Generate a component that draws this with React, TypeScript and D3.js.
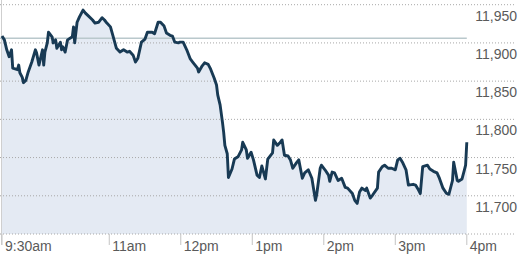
import React from "react";
import * as d3 from "d3";

const minutes = [0,2,4,6,8,9,13,14,15,17,18,20,22,25,28,29,31,34,35,36,38,39,42,43,45,46,49,50,51,53,55,59,60,61,63,65,68,70,72,76,78,81,84,86,88,91,93,96,99,102,105,107,110,112,114,117,120,122,126,128,131,133,136,138,141,143,145,148,149,152,155,158,160,164,165,168,170,173,175,178,180,181,183,185,186,187,189,190,193,195,198,201,202,205,206,209,211,214,216,218,221,223,227,228,231,233,235,237,240,242,244,247,249,252,254,257,260,263,264,267,268,271,274,275,277,279,282,285,288,290,294,296,298,300,302,305,306,309,311,315,316,319,321,324,327,330,332,334,336,339,341,345,347,349,351,353,357,359,362,365,367,370,373,375,378,379,382,383,386,388,389,390];
const values = [11909,11904,11891,11882,11891,11867,11865,11871,11861,11855,11848,11851,11862,11875,11891,11887,11871,11891,11871,11888,11900,11914,11908,11900,11904,11893,11901,11891,11895,11888,11904,11908,11921,11900,11927,11934,11943,11939,11936,11930,11926,11927,11933,11930,11926,11921,11910,11893,11888,11891,11888,11889,11884,11875,11880,11901,11905,11914,11914,11912,11927,11927,11922,11913,11910,11909,11901,11900,11901,11901,11891,11879,11875,11867,11862,11870,11874,11872,11866,11854,11845,11832,11819,11796,11783,11766,11755,11724,11735,11748,11751,11760,11770,11760,11749,11757,11747,11727,11724,11739,11722,11748,11756,11773,11766,11769,11773,11753,11752,11747,11736,11743,11747,11723,11730,11734,11723,11694,11701,11736,11740,11734,11727,11719,11731,11730,11720,11723,11711,11710,11703,11694,11690,11705,11710,11707,11710,11697,11701,11710,11731,11738,11740,11736,11736,11734,11747,11749,11744,11734,11714,11715,11714,11709,11703,11738,11740,11735,11732,11730,11723,11710,11703,11702,11720,11744,11720,11719,11722,11734,11740,11770];

const prevClose = 11906;
const yTicks = [11650, 11700, 11750, 11800, 11850, 11900, 11950];
const yLabels = [11700, 11750, 11800, 11850, 11900, 11950];
const xTicks = [0, 90, 150, 210, 270, 330, 390];
const xLabels = ["9:30am", "11am", "12pm", "1pm", "2pm", "3pm", "4pm"];

export default function App() {
  const W = 525, H = 264;
  const x = d3.scaleLinear().domain([0, 390]).range([2, 466.8]);
  const y = d3.scaleLinear().domain([11650, 11950]).range([234, 4.7]);
  const data = minutes.map((m, i) => ({ m, v: values[i] }));
  const line = d3.line<{ m: number; v: number }>().x(d => x(d.m)).y(d => y(d.v));
  const area = d3.area<{ m: number; v: number }>().x(d => x(d.m)).y0(y(11650)).y1(d => y(d.v));
  const font = "'Liberation Sans', Arial, sans-serif";
  return (
    <svg width={W} height={H} style={{ position: "absolute", left: 0, top: 0, background: "#fff" }}>
      <path d={area(data) || ""} fill="#e4eaf3" />
      {yTicks.map(t => (
        <line key={t} x1={0} x2={515} y1={y(t)} y2={y(t)} stroke="#a8a8a8" strokeWidth={1} strokeDasharray="1 2" />
      ))}
      <line x1={1.5} x2={1.5} y1={0} y2={245} stroke="#cfcfcf" strokeWidth={1} />
      <line x1={0} x2={x(390)} y1={y(prevClose)} y2={y(prevClose)} stroke="#b9c8cc" strokeWidth={1.5} />
      {xTicks.map((t, i) => (
        <g key={t}>
          <line x1={x(t)} x2={x(t)} y1={234} y2={245} stroke="#c4c4c4" strokeWidth={1} />
          <text x={x(t) + 3} y={251} fontFamily={font} fontSize={14} fill="#5a5a5a">{xLabels[i]}</text>
        </g>
      ))}
      {yLabels.map(t => (
        <text key={t} x={517} y={y(t) + 16} textAnchor="end" fontFamily={font} fontSize={14} fill="#5a5a5a">{d3.format(",")(t)}</text>
      ))}
      <path d={line(data) || ""} fill="none" stroke="#183a54" strokeWidth={2.9} strokeLinejoin="round" />
    </svg>
  );
}
